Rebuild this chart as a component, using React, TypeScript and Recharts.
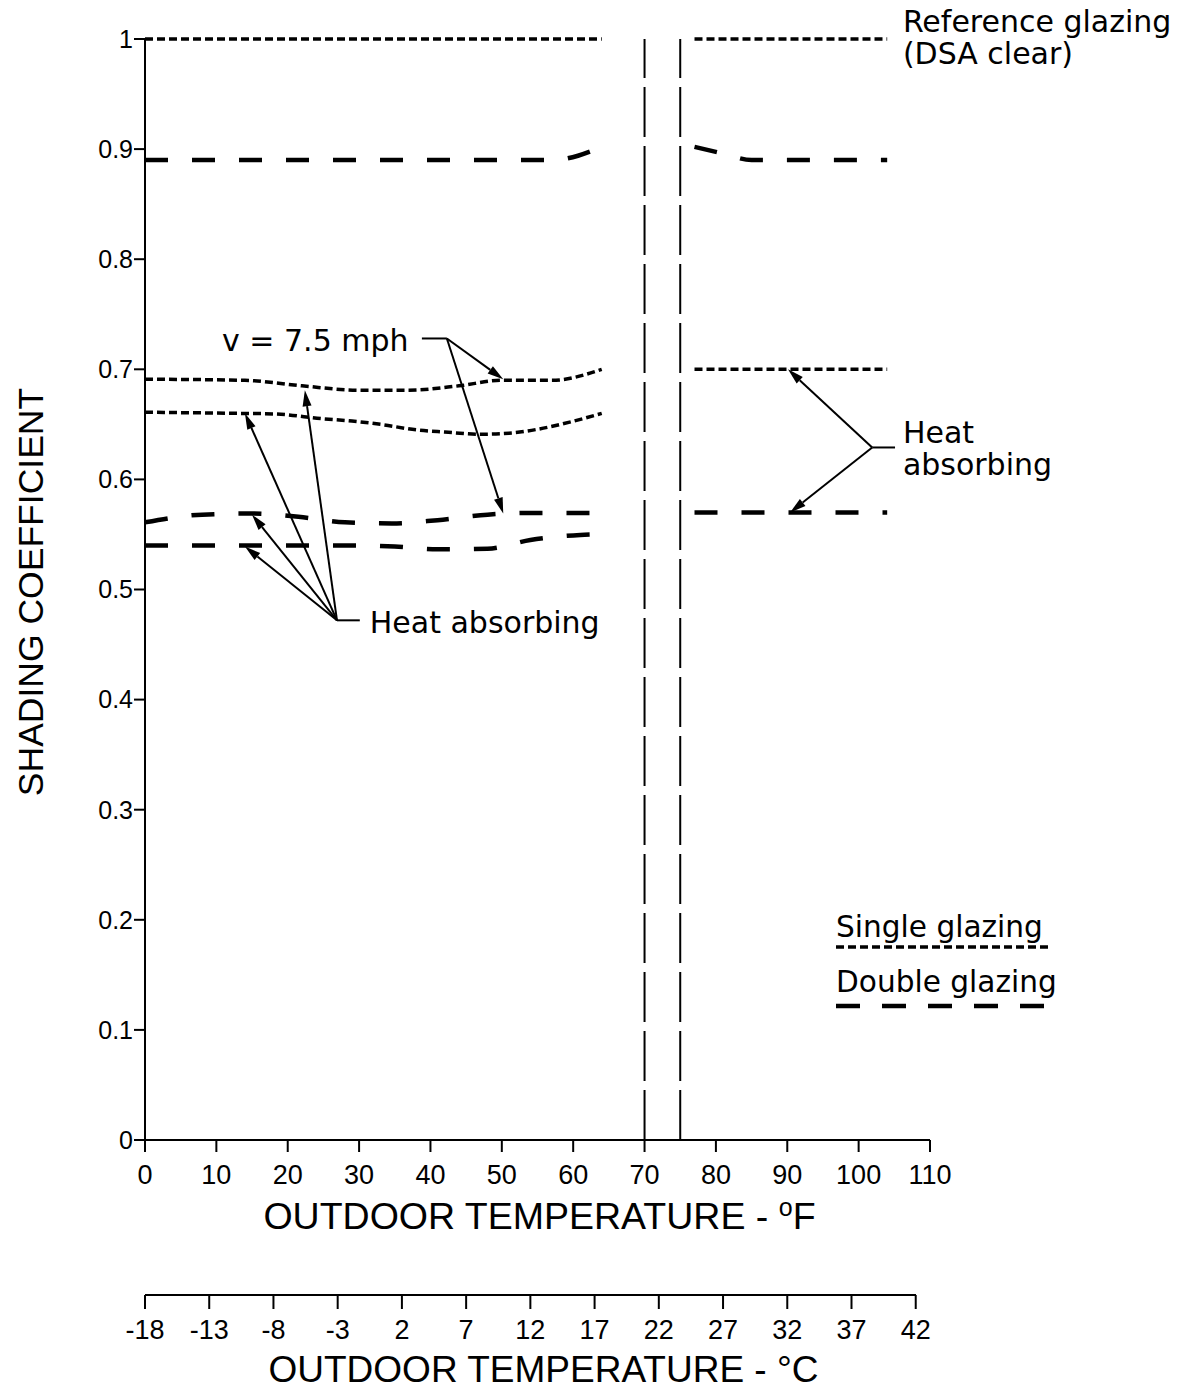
import React from 'react';
import { LineChart, Line, XAxis, YAxis, ReferenceLine, ReferenceDot, Legend } from 'recharts';

const FONT = '"Liberation Sans", Arial, Helvetica, sans-serif';
const NOTE_FONT = '"DejaVu Sans", Verdana, sans-serif';
const INK = '#000000';

// ---------- axes ----------
const fahrenheitTicks = [0, 10, 20, 30, 40, 50, 60, 70, 80, 90, 100, 110];
const celsiusTickAtF = [0, 9, 18, 27, 36, 45, 54, 63, 72, 81, 90, 99, 108];
const celsiusTickLabels = ['-18', '-13', '-8', '-3', '2', '7', '12', '17', '22', '27', '32', '37', '42'];
const coefficientTicks = [0, 0.1, 0.2, 0.3, 0.4, 0.5, 0.6, 0.7, 0.8, 0.9, 1];
const coefficientTickLabels = ['0', '0.1', '0.2', '0.3', '0.4', '0.5', '0.6', '0.7', '0.8', '0.9', '1'];
const gapBoundariesF = [70, 75];

// ---------- series: [outdoor temperature °F, shading coefficient] ----------
const refSingleLeft = [[0, 1.0], [64, 1.0]];
const refSingleRight = [[77, 1.0], [104, 1.0]];
const refDoubleLeft = [[0, 0.89], [20, 0.89], [40, 0.89], [57, 0.89], [64, 0.902]];
const refDoubleRight = [[77, 0.902], [81, 0.896], [85, 0.89], [95, 0.89], [104, 0.89]];
const absorbSingleWind = [[0, 0.691], [14, 0.69], [22, 0.685], [30, 0.681], [37, 0.681], [44, 0.685], [50, 0.69], [57, 0.69], [64, 0.7]];
const absorbSingleCalm = [[0, 0.661], [13, 0.66], [18, 0.6595], [25, 0.655], [29, 0.653], [33, 0.65], [38, 0.645], [42, 0.643], [47, 0.641], [51, 0.642], [55, 0.6455], [59.5, 0.652], [64, 0.66]];
const absorbDoubleWind = [[0, 0.561], [8, 0.568], [15, 0.569], [21.5, 0.566], [28, 0.561], [34.6, 0.56], [41, 0.563], [48, 0.568], [54, 0.5695], [63, 0.5695]];
const absorbDoubleCalm = [[0, 0.54], [15, 0.54], [28, 0.54], [35, 0.539], [41, 0.5365], [48, 0.537], [54, 0.545], [61, 0.5495], [63, 0.55]];
const absorbSingleRight = [[77, 0.7], [104, 0.7]];
const absorbDoubleRight = [[77, 0.57], [104, 0.57]];

// ---------- annotations ----------
const windArrowFrom = [42.3, 0.728];
const windArrowTips = [[50.2, 0.691], [50.2, 0.569]];
const windStub = [[38.8, 0.728], [42.3, 0.728]];
const leftArrowFrom = [26.9, 0.472];
const leftArrowTips = [[22.4, 0.681], [14, 0.66], [15, 0.568], [14, 0.539]];
const leftStub = [[26.9, 0.472], [30.1, 0.472]];
const rightArrowFrom = [101.9, 0.629];
const rightArrowTips = [[90.1, 0.7], [90.4, 0.57]];
const rightStub = [[101.9, 0.629], [105.1, 0.629]];
const noteTexts: [string, number, number][] = [
  ['v = 7.5 mph', 10.8, 0.717],
  ['Heat absorbing', 31.5, 0.4605],
  ['Heat', 106.2, 0.633],
  ['absorbing', 106.2, 0.604],
  ['Reference glazing', 106.2, 1.0068],
  ['(DSA clear)', 106.2, 0.9777],
];
const legendLabels = ['Single glazing', 'Double glazing'];

// ---------- styles ----------
const SINGLE_STYLE = { strokeWidth: 3.5, strokeDasharray: '8 4' };
const DOUBLE_STYLE = { strokeWidth: 4.5, strokeDasharray: '23 24' };

const seriesList: { key: string; points: number[][]; single: boolean }[] = [
  { key: 'refSingleLeft', points: refSingleLeft, single: true },
  { key: 'refSingleRight', points: refSingleRight, single: true },
  { key: 'refDoubleLeft', points: refDoubleLeft, single: false },
  { key: 'refDoubleRight', points: refDoubleRight, single: false },
  { key: 'absorbSingleWind', points: absorbSingleWind, single: true },
  { key: 'absorbSingleCalm', points: absorbSingleCalm, single: true },
  { key: 'absorbDoubleWind', points: absorbDoubleWind, single: false },
  { key: 'absorbDoubleCalm', points: absorbDoubleCalm, single: false },
  { key: 'absorbSingleRight', points: absorbSingleRight, single: true },
  { key: 'absorbDoubleRight', points: absorbDoubleRight, single: false },
];

const toData = (pts: number[][]) => pts.map(([t, v]) => ({ t, v }));

const ArrowShape = (p: any) => {
  const x1 = Number(p.x1), y1 = Number(p.y1), x2 = Number(p.x2), y2 = Number(p.y2);
  const dx = x2 - x1, dy = y2 - y1;
  const len = Math.hypot(dx, dy) || 1;
  const ux = dx / len, uy = dy / len;
  const head = 16, half = 4.5;
  const bx = x2 - ux * head, by = y2 - uy * head;
  const pts = `${x2},${y2} ${bx - uy * half},${by + ux * half} ${bx + uy * half},${by - ux * half}`;
  return (
    <g>
      <line x1={x1} y1={y1} x2={bx} y2={by} stroke={INK} strokeWidth={2} />
      <polygon points={pts} fill={INK} />
    </g>
  );
};

const textShape = (text: string) => (p: any) => (
  <text x={p.cx} y={p.cy} fontFamily={NOTE_FONT} fontSize={30} fill={INK}>{text}</text>
);

const LegendBox = () => (
  <svg width={240} height={120} style={{ overflow: 'visible', display: 'block' }}>
    <text x={0} y={37} fontFamily={NOTE_FONT} fontSize={29.6} fill={INK}>{legendLabels[0]}</text>
    <line x1={0} y1={47} x2={212} y2={47} stroke={INK} strokeWidth={SINGLE_STYLE.strokeWidth} strokeDasharray={SINGLE_STYLE.strokeDasharray} />
    <text x={0} y={92} fontFamily={NOTE_FONT} fontSize={29.6} fill={INK}>{legendLabels[1]}</text>
    <line x1={0} y1={106} x2={214} y2={106} stroke={INK} strokeWidth={DOUBLE_STYLE.strokeWidth} strokeDasharray="24 22" />
  </svg>
);

const tickStyle = (size: number, family = FONT, weight: any = 'normal') => ({ fill: INK, fontSize: size, fontFamily: family, fontWeight: weight });
const axisStroke = { stroke: INK, strokeWidth: 2 };

export default function App() {
  return (
    <div style={{ width: 1179, height: 1390 }}>
      <style>{'html,body{margin:0;padding:0;overflow:hidden;}'}</style>
      <LineChart width={1179} height={1390} margin={{ top: 39, right: 249, left: 0, bottom: 0 }}>
        <XAxis
          xAxisId="t1"
          dataKey="t"
          type="number"
          domain={[0, 110]}
          ticks={fahrenheitTicks}
          interval={0}
          tickSize={12}
          tickMargin={13}
          height={155}
          axisLine={axisStroke}
          tickLine={axisStroke}
          tick={tickStyle(27)}
          label={(props: any) => {
            const vb = props.viewBox || {};
            return (
              <text x={vb.x + vb.width / 2 + 2} y={vb.y + 89} textAnchor="middle" fontFamily={FONT} fontSize={37.5} fill={INK}>
                OUTDOOR TEMPERATURE - <tspan dy={-13} fontSize={25}>o</tspan><tspan dy={13}>F</tspan>
              </text>
            );
          }}
        />
        <XAxis
          xAxisId="t2"
          dataKey="t"
          type="number"
          domain={[0, 110]}
          allowDataOverflow
          ticks={celsiusTickAtF}
          interval={0}
          tickFormatter={(v: number) => celsiusTickLabels[celsiusTickAtF.indexOf(v)]}
          tickSize={14}
          tickMargin={11}
          height={95}
          axisLine={{ stroke: INK, strokeWidth: 2, strokeDasharray: '771 200' }}
          tickLine={axisStroke}
          tick={tickStyle(27)}
          label={(props: any) => {
            const vb = props.viewBox || {};
            return (
              <text x={vb.x + vb.width / 2 + 6} y={vb.y + 87} textAnchor="middle" fontFamily={FONT} fontSize={37} fill={INK}>
                OUTDOOR TEMPERATURE - °C
              </text>
            );
          }}
        />
        <YAxis
          type="number"
          domain={[0, 1]}
          ticks={coefficientTicks}
          interval={0}
          tickFormatter={(v: number) => coefficientTickLabels[coefficientTicks.indexOf(v)]}
          width={145}
          tickSize={11}
          tickMargin={1}
          axisLine={axisStroke}
          tickLine={axisStroke}
          tick={tickStyle(25)}
          label={(props: any) => {
            const vb = props.viewBox || {};
            const cx = vb.x + 42.5;
            const cy = vb.y + vb.height / 2 + 2.5;
            return (
              <text x={cx} y={cy} transform={`rotate(-90 ${cx} ${cy})`} textAnchor="middle" fontFamily={FONT} fontSize={35.5} fill={INK}>
                SHADING COEFFICIENT
              </text>
            );
          }}
        />

        {gapBoundariesF.map((x) => (
          <ReferenceLine key={`gap-${x}`} xAxisId="t1" x={x} stroke={INK} strokeWidth={2} strokeDasharray="50 9" />
        ))}

        {seriesList.map((s) => (
          <Line
            key={s.key}
            xAxisId="t1"
            data={toData(s.points)}
            dataKey="v"
            type="monotone"
            stroke={INK}
            strokeWidth={s.single ? SINGLE_STYLE.strokeWidth : DOUBLE_STYLE.strokeWidth}
            strokeDasharray={s.single ? SINGLE_STYLE.strokeDasharray : DOUBLE_STYLE.strokeDasharray}
            dot={false}
            activeDot={false}
            legendType="none"
            isAnimationActive={false}
          />
        ))}

        {[windStub, leftStub, rightStub].map((seg, i) => (
          <ReferenceLine
            key={`stub-${i}`}
            xAxisId="t1"
            segment={[{ x: seg[0][0], y: seg[0][1] }, { x: seg[1][0], y: seg[1][1] }]}
            stroke={INK}
            strokeWidth={2}
            ifOverflow="visible"
          />
        ))}

        {([[windArrowFrom, windArrowTips], [leftArrowFrom, leftArrowTips], [rightArrowFrom, rightArrowTips]] as [number[], number[][]][]).flatMap(
          ([from, tips], gi) =>
            tips.map((tip, i) => (
              <ReferenceLine
                key={`arrow-${gi}-${i}`}
                xAxisId="t1"
                segment={[{ x: from[0], y: from[1] }, { x: tip[0], y: tip[1] }]}
                ifOverflow="visible"
                shape={ArrowShape}
              />
            ))
        )}

        {noteTexts.map(([text, x, y]) => (
          <ReferenceDot
            key={`note-${text}`}
            xAxisId="t1"
            x={x}
            y={y}
            r={2}
            ifOverflow="visible"
            shape={textShape(text)}
          />
        ))}

        <Legend
          layout="horizontal"
          verticalAlign="middle"
          align="center"
          wrapperStyle={{ left: 836, top: 900, width: 240, height: 120 }}
          content={() => <LegendBox />}
        />
      </LineChart>
    </div>
  );
}
